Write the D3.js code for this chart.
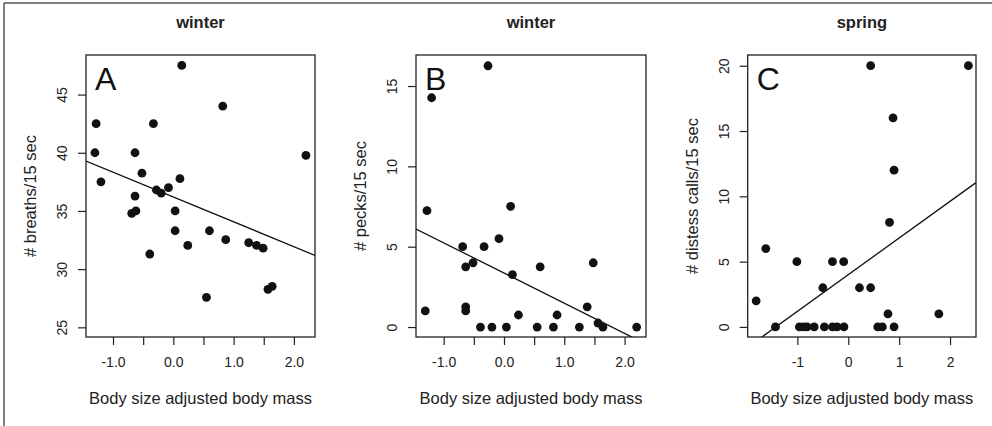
<!DOCTYPE html>
<html>
<head>
<meta charset="utf-8">
<script src="https://cdn.jsdelivr.net/npm/d3@7"></script>
<style>
  html, body { margin: 0; padding: 0; background: #fff; }
  svg { display: block; font-family: "Liberation Sans", Arial, Helvetica, sans-serif; }
</style>
</head>
<body>
<svg id="chart" width="992" height="426"></svg>
<script>
// ---- data ----
const panelTitles = ["winter", "winter", "spring"];
const panelLetters = ["A", "B", "C"];
const yLabels = ["# breaths/15 sec", "# pecks/15 sec", "# distess calls/15 sec"];
const xLabel = "Body size adjusted body mass";

const breathsX = [0.14, 0.82, -1.28, -0.33, -1.30, -0.635, 2.20, -1.20, -0.52, 0.11, -0.08, -0.28, -0.20, -0.635,
  -0.69, -0.62, 0.03, 0.03, 0.60, 0.87, 0.24, 1.25, 1.38, 1.49, -0.39, 0.55, 1.57, 1.64];
const breathsY = [47.5, 44.0, 42.5, 42.5, 40.0, 40.0, 39.77, 37.5, 38.25, 37.77, 37.0, 36.8, 36.54, 36.28,
  34.79, 35.0, 35.0, 33.3, 33.3, 32.53, 32.04, 32.27, 32.04, 31.8, 31.3, 27.58, 28.27, 28.52];

const pecksX = [-0.265, -1.20, -1.277, 0.11, -0.083, -0.685, -0.33, -0.635, -0.514, 0.60, 1.48, 0.14, -1.305,
  -0.635, -0.635, 0.24, 0.88, 1.38, 1.56, -0.39, -0.20, 0.04, 0.55, 0.82, 1.25, 1.64, 2.20];
const pecksY = [16.26, 14.27, 7.24, 7.51, 5.5, 5.0, 5.0, 3.75, 4.0, 3.75, 4.0, 3.26, 1.0,
  1.0, 1.26, 0.75, 0.75, 1.26, 0.25, 0, 0, 0, 0, 0, 0, 0, 0];

const callsX = [0.44, 2.36, 0.88, 0.90, 0.81, -1.62, -1.01, -0.31, -0.09, -0.50, 0.22, 0.44, -1.81, 0.78, 1.78,
  -1.43, -0.96, -0.88, -0.81, -0.67, -0.47, -0.31, -0.22, -0.085, 0.58, 0.67, 0.90];
const callsY = [20, 20, 16, 12, 8, 6, 5, 5, 5, 3, 3, 3, 2, 1, 1,
  0, 0, 0, 0, 0, 0, 0, 0, 0, 0, 0, 0];

// fitted regression lines [intercept, slope]
const fitBreaths = [36.2, -2.134];
const fitPecks = [3.36, -1.879];
const fitCalls = [4.0, 2.809];

// axis domains and ticks
const xDomains = [[-1.448, 2.35], [-1.459, 2.355], [-1.976, 2.51]];
const yDomains = [[24.17, 48.4], [-0.62, 16.93], [-0.77, 20.82]];
const xTicks = [[-1, -0.5, 0, 0.5, 1, 1.5, 2], [-1, -0.5, 0, 0.5, 1, 1.5, 2], [-1, 0, 1, 2]];
const xTickLabels = [["-1.0", "", "0.0", "", "1.0", "", "2.0"], ["-1.0", "", "0.0", "", "1.0", "", "2.0"], ["-1", "0", "1", "2"]];
const yTicks = [[25, 30, 35, 40, 45], [0, 5, 10, 15], [0, 5, 10, 15, 20]];

// ---- layout ----
const boxes = [
  { x0: 86, x1: 315 },
  { x0: 416, x1: 646 },
  { x0: 747.7, x1: 976 }
];
const yTop = 55, yBot = 337;

const svg = d3.select("#chart");

// outer frame (top and left edges)
svg.append("line").attr("x1", 4).attr("x2", 992).attr("y1", 3).attr("y2", 3)
  .attr("stroke", "#555").attr("stroke-width", 1.5);
svg.append("line").attr("x1", 4).attr("x2", 4).attr("y1", 3).attr("y2", 426)
  .attr("stroke", "#555").attr("stroke-width", 1.5);

const panels = [
  { xs: breathsX, ys: breathsY, fit: fitBreaths },
  { xs: pecksX, ys: pecksY, fit: fitPecks },
  { xs: callsX, ys: callsY, fit: fitCalls }
];

panels.forEach((p, i) => {
  const b = boxes[i];
  const x = d3.scaleLinear().domain(xDomains[i]).range([b.x0, b.x1]);
  const y = d3.scaleLinear().domain(yDomains[i]).range([yBot, yTop]);
  const g = svg.append("g");

  // clip
  const cid = "clip" + i;
  svg.append("clipPath").attr("id", cid).append("rect")
    .attr("x", b.x0).attr("y", yTop).attr("width", b.x1 - b.x0).attr("height", yBot - yTop);

  // x axis
  const xa = g.append("g").attr("transform", `translate(0,${yBot})`)
    .call(d3.axisBottom(x).tickValues(xTicks[i]).tickSize(8).tickPadding(12)
      .tickFormat((d, k) => xTickLabels[i][k]));
  xa.select(".domain").remove();
  xa.selectAll(".tick line").attr("stroke", "#222").attr("stroke-width", 1.2);
  xa.selectAll(".tick text").attr("font-size", 14).attr("fill", "#222")
    .attr("font-family", "'Liberation Sans', Arial, sans-serif");

  // y axis
  const ya = g.append("g").attr("transform", `translate(${b.x0},0)`)
    .call(d3.axisLeft(y).tickValues(yTicks[i]).tickSize(8).tickFormat(d3.format("d")));
  ya.select(".domain").remove();
  ya.selectAll(".tick line").attr("stroke", "#222").attr("stroke-width", 1.2);
  ya.selectAll(".tick text")
    .attr("x", null).attr("dy", null)
    .attr("transform", "translate(-24,0) rotate(-90)")
    .attr("text-anchor", "middle").attr("dominant-baseline", "central")
    .attr("font-size", 14).attr("fill", "#222")
    .attr("font-family", "'Liberation Sans', Arial, sans-serif");

  // box
  g.append("rect").attr("x", b.x0).attr("y", yTop)
    .attr("width", b.x1 - b.x0).attr("height", yBot - yTop)
    .attr("fill", "none").attr("stroke", "#222").attr("stroke-width", 1.3);

  // regression line
  const [a, s] = p.fit;
  const xd = xDomains[i];
  g.append("line").attr("clip-path", `url(#${cid})`)
    .attr("x1", x(xd[0])).attr("y1", y(a + s * xd[0]))
    .attr("x2", x(xd[1])).attr("y2", y(a + s * xd[1]))
    .attr("stroke", "#111").attr("stroke-width", 1.3);

  // points
  g.selectAll("circle.pt").data(p.xs.map((v, k) => [v, p.ys[k]])).enter()
    .append("circle").attr("class", "pt")
    .attr("cx", d => x(d[0])).attr("cy", d => y(d[1])).attr("r", 4.4)
    .attr("fill", "#111");

  // panel letter
  g.append("text").attr("x", b.x0 + 9).attr("y", 90)
    .attr("font-size", 32).attr("fill", "#111").text(panelLetters[i]);

  // title
  g.append("text").attr("x", (b.x0 + b.x1) / 2).attr("y", 22)
    .attr("text-anchor", "middle").attr("dominant-baseline", "central")
    .attr("font-size", 16.5).attr("font-weight", "bold").attr("fill", "#222")
    .text(panelTitles[i]);

  // x label
  g.append("text").attr("x", (b.x0 + b.x1) / 2).attr("y", 398)
    .attr("text-anchor", "middle").attr("dominant-baseline", "central")
    .attr("font-size", 16.5).attr("fill", "#222").text(xLabel);

  // y label
  g.append("text").attr("transform", `translate(${b.x0 - 56},${(yTop + yBot) / 2}) rotate(-90)`)
    .attr("text-anchor", "middle").attr("dominant-baseline", "central")
    .attr("font-size", 16.5).attr("fill", "#222").text(yLabels[i]);
});
</script>
</body>
</html>
